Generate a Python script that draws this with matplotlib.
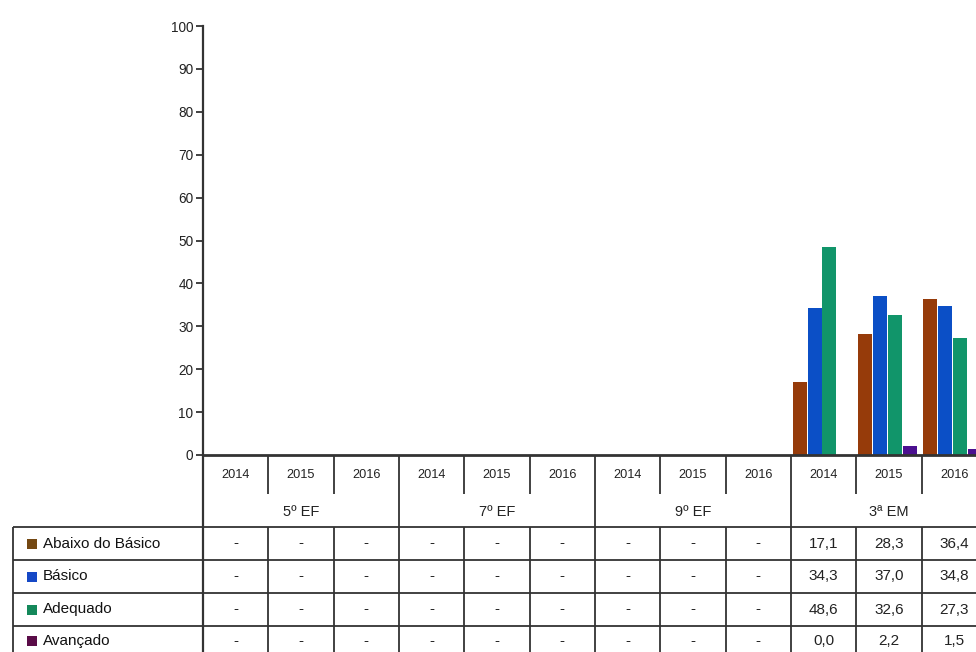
import numpy as np
import matplotlib
matplotlib.use("Agg")
import matplotlib.pyplot as plt
from matplotlib.patches import Rectangle

plt.rcParams['font.family'] = ['Liberation Sans Narrow', 'Liberation Sans', 'DejaVu Sans']

# ---- data ----
levels = ["5º EF", "7º EF", "9º EF", "3ª EM"]
years = ["2014", "2015", "2016"]
series_names = ["Abaixo do Básico", "Básico", "Adequado", "Avançado"]
nan = np.nan
abaixo = [nan] * 9 + [17.1, 28.3, 36.4]
basico = [nan] * 9 + [34.3, 37.0, 34.8]
adequado = [nan] * 9 + [48.6, 32.6, 27.3]
avancado = [nan] * 9 + [0.0, 2.2, 1.5]
series = [abaixo, basico, adequado, avancado]
bar_colors = ["#963b0a", "#0b4fc6", "#11956a", "#4b1090"]
legend_colors = ["#744812", "#1548c6", "#14885a", "#5a0c48"]
yticks = list(range(0, 101, 10))

# ---- figure ----
W, H = 976, 652
fig = plt.figure(figsize=(W / 100, H / 100), dpi=100)
fig.patch.set_facecolor("white")

x0_px, x1_px = 203, 987
ytop_px, ybase_px = 26, 455
ax = fig.add_axes([x0_px / W, 1 - ybase_px / H, (x1_px - x0_px) / W, (ybase_px - ytop_px) / H])
ncol = len(levels) * len(years)
ax.set_xlim(0, ncol)
ax.set_ylim(0, 100)
ax.set_facecolor("none")

px_per_x = (x1_px - x0_px) / ncol
px_per_y = (ybase_px - ytop_px) / 100.0

def py(ypix):
    """pixel row -> data y"""
    return (ybase_px - ypix) / px_per_y

def pxx(xpix):
    return (xpix - x0_px) / px_per_x

# bars
bw = 14 / px_per_x
pitch = 14.8 / px_per_x
centers = np.arange(ncol) + 0.5 - 0.025
for i, (vals, c) in enumerate(zip(series, bar_colors)):
    ax.bar(centers + (i - 1.5) * pitch, vals, width=bw, color=c, linewidth=0, zorder=2)

# axes styling
for s in ["top", "right"]:
    ax.spines[s].set_visible(False)
ax.spines["left"].set_color("#333333")
ax.spines["left"].set_linewidth(1.6)
ax.spines["bottom"].set_color("#333333")
ax.spines["bottom"].set_linewidth(2.0)
ax.set_yticks(yticks)
ax.set_yticklabels([str(t) for t in yticks], fontsize=9.8, color="#222222")
ax.tick_params(axis="y", length=5, width=1.3, color="#333333", pad=2)
ax.set_xticks([])

# ---- table ----
lc = "#333333"
lw = 1.3
def line(xs, ys, w=lw):
    ax.plot(xs, ys, color=lc, linewidth=w, clip_on=False, solid_capstyle="butt", zorder=3)

y_year_end = py(494)
y_head = py(527)
row_px = [527, 560, 593, 626, 659]
y_rows = [py(p) for p in row_px]
x_leg = pxx(13)

# vertical line at left of chart area through table
line([0, 0], [0, y_rows[-1]], 1.6)
# year separators (partial) and group separators (full)
for k in range(1, ncol + 1):
    if k % 3 == 0:
        line([k, k], [0, y_rows[-1]])
    else:
        line([k, k], [0, y_year_end])
        line([k, k], [y_head, y_rows[-1]])
# horizontal lines for data rows
for yr in y_rows[:-1]:
    line([x_leg, ncol], [yr, yr])
# legend column left border
line([x_leg, x_leg], [y_head, y_rows[-1]])

# year labels
for k in range(ncol):
    ax.text(k + 0.5, py(475), years[k % 3], ha="center", va="center",
            fontsize=9.2, color="#222222", clip_on=False)
# level labels
for g, lv in enumerate(levels):
    ax.text(g * 3 + 1.5, py(512), lv, ha="center", va="center",
            fontsize=10.5, color="#222222", clip_on=False)

# rows
for r, (name, vals) in enumerate(zip(series_names, series)):
    yc = (y_rows[r] + y_rows[r + 1]) / 2
    if r == 3:
        yc = py(641)
    # legend square
    sq_x = pxx(27)
    sq_w = 10 / px_per_x
    sq_h = 10 / px_per_y
    ax.add_patch(Rectangle((sq_x, yc - sq_h / 2), sq_w, sq_h, facecolor=legend_colors[r],
                           edgecolor="none", clip_on=False, zorder=3))
    ax.text(pxx(43), yc, name, ha="left", va="center", fontsize=11,
            color="#111111", clip_on=False)
    for k in range(ncol):
        v = vals[k]
        txt = "-" if np.isnan(v) else f"{v:.1f}".replace(".", ",")
        ax.text(k + 0.5, yc, txt, ha="center", va="center", fontsize=11,
                color="#222222", clip_on=False)

fig.savefig("out.png", dpi=100, facecolor="white")
